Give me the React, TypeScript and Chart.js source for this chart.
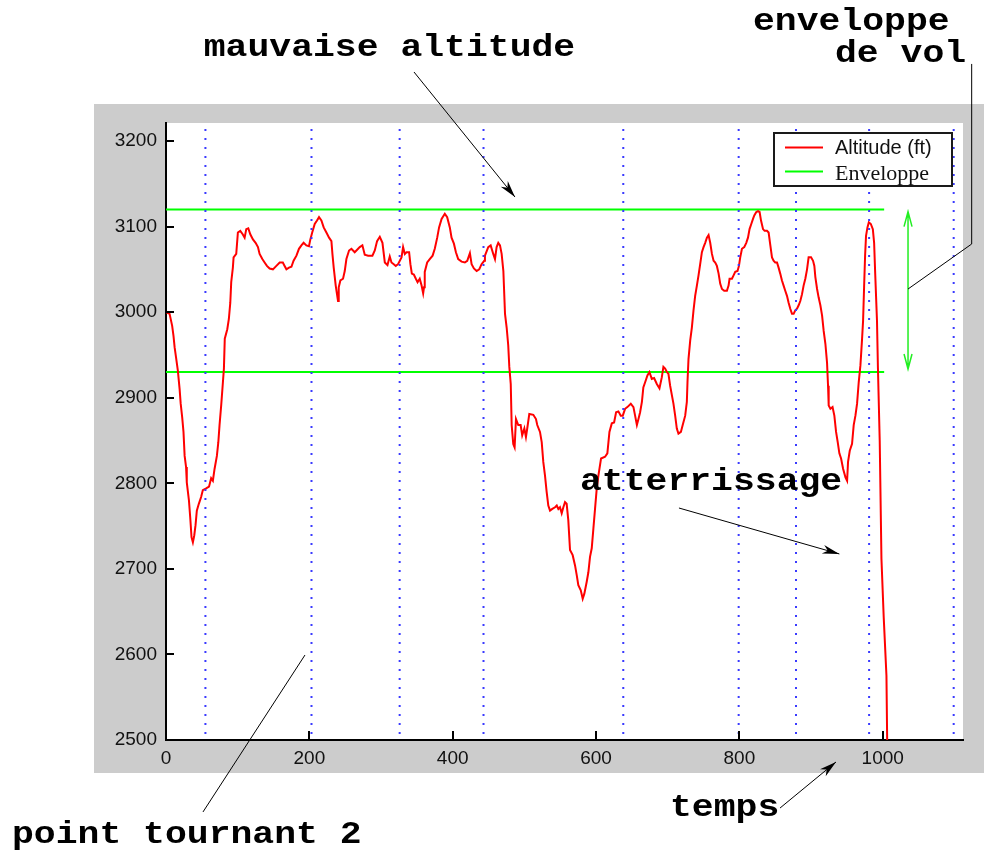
import React, { useEffect, useRef } from 'react';
import { Chart, registerables } from 'chart.js';

Chart.register(...registerables);

// ---------- data ----------
const timeValues = [
  0, 5, 8.6, 10.5, 12, 14, 16.5, 19, 20.5, 22.6, 24.4, 26, 28, 29, 32, 33.8, 35.6, 37.5, 39.4, 41.2,
  43, 45.8, 49, 51.4, 56, 60, 63, 65.4, 67.8, 71, 73, 74.7, 77, 79.4, 80.8, 82, 85.5, 87.7, 89.7, 91,
  93.3, 94.3, 98, 100.3, 103.6, 107, 109.7, 112, 114.8, 117.6, 121.3, 125, 128.3, 130.6, 134.4, 137.6, 140.8, 144.6, 149.2, 154,
  158.6, 163, 165.5, 168, 171.6, 175, 178, 182, 185.5, 188.9, 192, 195.8, 199.5, 201.4, 204, 207.5, 210.7, 213.5, 216.8, 220,
  223.8, 227.5, 230.8, 232.2, 234, 236.8, 240, 241, 243.3, 247, 249.4, 251.7, 255.4, 258.7, 263.3, 265.7, 270.3, 274, 277.3, 282,
  288, 291.3, 294.5, 298.3, 302, 305.3, 309, 312.2, 314.6, 317.8, 320.6, 323.8, 328.6, 330.8, 333.2, 335.6, 339.2, 341, 343, 345.8,
  348.6, 351, 354, 356.6, 358.8, 360, 361, 364.4, 368, 372, 375, 378.4, 381, 384.5, 389, 392.3, 396, 398.4, 401.7, 404.5,
  407.7, 412.4, 417, 420.3, 424, 426.4, 429.6, 433.4, 437, 440.3, 444, 445, 449.6, 453, 456.6, 459, 461.3, 463.6, 466, 468.3,
  470.7, 473, 475.3, 477.5, 479, 481, 482.3, 484.5, 486.4, 488.3, 491.5, 494.8, 497, 500, 502.2, 504, 506.9, 512.5, 516.2, 518,
  521.8, 524.2, 526.4, 528.8, 531.1, 533.4, 535.8, 539, 542.8, 545.2, 547.4, 549.7, 552.1, 554.4, 556.7, 559, 561.3, 563.7, 567.4, 570.7,
  573, 575.3, 578.7, 581.4, 583.7, 587, 589.3, 591.6, 594, 596.3, 598.6, 601, 603.3, 607, 612.6, 615.8, 618.7, 622, 625.2, 628,
  631.2, 634.5, 637.3, 640.5, 643.7, 648.5, 652.2, 654.5, 657, 659.2, 661.5, 664, 666, 668.5, 671.7, 674.5, 677.8, 681, 684.8, 688.5,
  691.8, 694, 696.4, 698.8, 701, 703.4, 705.8, 708, 710.4, 712.7, 715, 718.4, 721.2, 724.4, 726.7, 727.6, 729, 731.4, 733.7, 736,
  738.3, 740.7, 743, 745.3, 747.7, 750, 752.3, 754.7, 757, 759.3, 761.7, 764, 766.3, 768.6, 771, 773.3, 775.7, 778.8, 782.6, 784.9,
  786.3, 789.6, 791.9, 794.2, 797.4, 799.4, 801.2, 803.6, 806.8, 809.6, 812, 814.2, 816.6, 819, 820.8, 823.6, 826, 828.2, 830.2, 833,
  835.2, 838.5, 840.8, 843.2, 845.5, 847.7, 850, 852.5, 854.7, 857, 859.4, 861.7, 864, 866.4, 868.7, 871, 873.4, 875.7, 878, 880.4,
  882.7, 885, 887.4, 889.6, 892, 894.4, 896.6, 900, 902.8, 904.6, 906, 908.4, 910.6, 913, 915.4, 917.6, 920, 922.3, 923.7, 924.6,
  927, 930, 932.5, 934.9, 937.2, 939.5, 941.9, 944.7, 948, 950.3, 951.6, 954, 957.2, 959.5, 961.9, 964.2, 966.5, 968.9, 971.2, 972.6,
  974, 975.4, 976.7, 978.7, 980.6, 983.4, 986.2, 988, 989.5, 992, 993.3, 995.8, 998.2, 1001.4, 1005.2, 1006.2, 1007,
];

const altitudeValues = [
  3000, 2998, 2984, 2972, 2959, 2947, 2932, 2910, 2893, 2877, 2860, 2832, 2819, 2801, 2780, 2760, 2737, 2731, 2739, 2751,
  2768, 2776, 2784, 2792, 2794, 2796, 2806, 2803, 2817, 2832, 2848, 2868, 2891, 2918, 2934, 2969, 2980, 2992, 3011, 3035,
  3052, 3064, 3068, 3093, 3095, 3091, 3087, 3097, 3098, 3091, 3085, 3081, 3076, 3068, 3062, 3058, 3054, 3051, 3050, 3054,
  3058, 3058, 3054, 3050, 3052, 3053, 3060, 3066, 3074, 3078, 3081, 3078, 3077, 3085, 3093, 3103, 3107, 3111, 3107, 3099,
  3093, 3087, 3083, 3068, 3052, 3031, 3013, 3029, 3037, 3039, 3048, 3062, 3072, 3074, 3070, 3072, 3076, 3078, 3067, 3066,
  3066, 3072, 3083, 3088, 3081, 3058, 3055, 3065, 3058, 3056, 3054, 3056, 3064, 3076, 3068, 3070, 3070, 3056, 3045, 3044,
  3039, 3035, 3039, 3031, 3022, 3029, 3047, 3058, 3062, 3066, 3074, 3087, 3099, 3109, 3115, 3111, 3099, 3087, 3080, 3070,
  3062, 3059, 3058, 3060, 3069, 3056, 3051, 3048, 3050, 3056, 3060, 3066, 3076, 3078, 3068, 3062, 3076, 3081, 3078, 3068,
  3048, 2998, 2982, 2961, 2936, 2916, 2868, 2846, 2842, 2875, 2868, 2868, 2856, 2864, 2854, 2864, 2881, 2880, 2875, 2868,
  2860, 2848, 2825, 2809, 2790, 2774, 2768, 2770, 2772, 2774, 2770, 2772, 2765, 2772, 2778, 2776, 2757, 2722, 2716, 2704,
  2693, 2681, 2675, 2665, 2671, 2685, 2696, 2714, 2724, 2747, 2770, 2794, 2809, 2829, 2831, 2835, 2860, 2870, 2871, 2883,
  2884, 2879, 2879, 2887, 2889, 2893, 2889, 2879, 2868, 2875, 2883, 2895, 2912, 2918, 2926, 2930, 2922, 2923, 2916, 2911,
  2924, 2936, 2934, 2930, 2928, 2914, 2903, 2893, 2879, 2864, 2858, 2860, 2869, 2879, 2895, 2918, 2945, 2967, 2982, 3002,
  3019, 3031, 3043, 3056, 3070, 3076, 3081, 3087, 3090, 3081, 3068, 3060, 3058, 3054, 3045, 3033, 3027, 3025, 3025, 3031,
  3039, 3039, 3043, 3047, 3048, 3054, 3064, 3074, 3076, 3081, 3087, 3097, 3103, 3109, 3113, 3117, 3118, 3117, 3107, 3097,
  3095, 3095, 3093, 3078, 3064, 3060, 3058, 3058, 3052, 3045, 3037, 3031, 3025, 3019, 3011, 3004, 2998, 2998, 3002, 3004,
  3008, 3013, 3021, 3031, 3039, 3050, 3064, 3064, 3060, 3054, 3041, 3027, 3017, 3008, 2996, 2978, 2963, 2941, 2914, 2891,
  2887, 2889, 2879, 2860, 2848, 2835, 2829, 2817, 2807, 2803, 2825, 2838, 2846, 2868, 2879, 2893, 2918, 2938, 2969, 2990,
  3029, 3066, 3089, 3099, 3105, 3103, 3097, 3081, 3045, 2990, 2935, 2850, 2712, 2643, 2575, 2500, 2480,
];

const envelopeLow = 2930;
const envelopeHigh = 3120;
const envelopeStart = 0;
const envelopeEnd = 1002;

const markerTimes = [55, 203, 326, 443, 638, 799, 879, 981, 1099];

const xTickValues = [0, 200, 400, 600, 800, 1000];
const yTickValues = [2500, 2600, 2700, 2800, 2900, 3000, 3100, 3200];

const xMin = 0;
const xMax = 1112;
const yMin = 2500;
const yMax = 3221;

const seriesLabels = ['Altitude (ft)', 'Enveloppe'];

// annotation anchors, in data units (time, altitude)
const annotationTexts = [
  { text: 'mauvaise altitude', x: 311.8, y: 3299, align: 'center' },
  { text: 'enveloppe', x: 819, y: 3330, align: 'left' },
  { text: 'de vol', x: 933.4, y: 3292, align: 'left' },
  { text: 'atterrissage', x: 577.6, y: 2792, align: 'left' },
  { text: 'point tournant 2', x: -214.9, y: 2380, align: 'left' },
  { text: 'temps', x: 703.2, y: 2411, align: 'left' },
];

const annotationArrows = [
  { from: [346, 3280.6], to: [486.9, 3134.5], head: true },
  { from: [51.6, 2415.9], to: [193.9, 2599.3], head: false },
  { from: [856.7, 2420.5], to: [934.8, 2474.3], head: true },
  { from: [715.7, 2771.1], to: [939.5, 2717.4], head: true },
];

const envelopeLeader = [
  [1035.3, 3027],
  [1124.1, 3079.6],
  [1124.1, 3290],
];

const envelopeSpan = { x: 1035.3, low: 2933.5, high: 3117.4 };

// ---------- drawing helpers ----------
function drawArrowHead(ctx: CanvasRenderingContext2D, x1: number, y1: number, x2: number, y2: number) {
  const ang = Math.atan2(y2 - y1, x2 - x1);
  const c = Math.cos(ang);
  const s = Math.sin(ang);
  const L = 17;
  const W = 4.5;
  const N = 12;
  ctx.beginPath();
  ctx.moveTo(x2, y2);
  ctx.lineTo(x2 - L * c + W * s, y2 - L * s - W * c);
  ctx.lineTo(x2 - N * c, y2 - N * s);
  ctx.lineTo(x2 - L * c - W * s, y2 - L * s + W * c);
  ctx.closePath();
  ctx.fill();
}

const framePlugin = {
  id: 'framePlugin',
  beforeDraw(chart: any) {
    const { ctx, chartArea: a } = chart;
    ctx.save();
    ctx.fillStyle = '#ffffff';
    ctx.fillRect(0, 0, chart.width, chart.height);
    ctx.fillStyle = '#cccccc';
    const gx = a.left - 72;
    const gy = a.top - 19;
    ctx.fillRect(gx, gy, chart.width - gx, a.bottom + 33 - gy);
    ctx.fillStyle = '#ffffff';
    ctx.fillRect(a.left, a.top, a.right - a.left, a.bottom - a.top);
    ctx.restore();
  },
  afterDraw(chart: any) {
    const { ctx, chartArea: a } = chart;
    const sx = chart.scales.x;
    const sy = chart.scales.y;
    const px = (v: number) => sx.getPixelForValue(v);
    const py = (v: number) => sy.getPixelForValue(v);
    ctx.save();

    // inward tick marks
    ctx.strokeStyle = '#000';
    ctx.lineWidth = 2;
    ctx.beginPath();
    yTickValues.forEach((v) => {
      const y = Math.round(py(v));
      ctx.moveTo(a.left, y);
      ctx.lineTo(a.left + 8, y);
    });
    xTickValues.forEach((v) => {
      const x = Math.round(px(v));
      ctx.moveTo(x, a.bottom);
      ctx.lineTo(x, a.bottom - 9);
    });
    ctx.stroke();

    // legend
    const lw = 178;
    const lh = 53;
    const lx = a.right - 189;
    const ly = a.top + 10;
    ctx.fillStyle = '#ffffff';
    ctx.fillRect(lx, ly, lw, lh);
    ctx.strokeStyle = '#1a1a1a';
    ctx.lineWidth = 2;
    ctx.strokeRect(lx, ly, lw, lh);
    ctx.lineWidth = 2;
    ctx.strokeStyle = '#ff0000';
    ctx.beginPath();
    ctx.moveTo(lx + 11, ly + 14.5);
    ctx.lineTo(lx + 49, ly + 14.5);
    ctx.stroke();
    ctx.strokeStyle = '#00ff00';
    ctx.beginPath();
    ctx.moveTo(lx + 11, ly + 38.5);
    ctx.lineTo(lx + 49, ly + 38.5);
    ctx.stroke();
    ctx.fillStyle = '#111';
    ctx.textAlign = 'left';
    ctx.textBaseline = 'alphabetic';
    ctx.font = '20px "Liberation Sans", Arial, sans-serif';
    ctx.fillText(seriesLabels[0], lx + 61, ly + 21);
    ctx.font = '22px "Liberation Serif", "Times New Roman", serif';
    ctx.fillText(seriesLabels[1], lx + 61, ly + 47);

    // green envelope span arrow
    const ex = px(envelopeSpan.x);
    const eTop = py(envelopeSpan.high);
    const eBot = py(envelopeSpan.low);
    ctx.strokeStyle = '#22ee22';
    ctx.lineWidth = 1.5;
    ctx.beginPath();
    ctx.moveTo(ex, eTop);
    ctx.lineTo(ex, eBot);
    ctx.moveTo(ex - 4, eTop + 15);
    ctx.lineTo(ex, eTop);
    ctx.lineTo(ex + 4, eTop + 15);
    ctx.moveTo(ex - 4, eBot - 15);
    ctx.lineTo(ex, eBot);
    ctx.lineTo(ex + 4, eBot - 15);
    ctx.stroke();

    // leader for "enveloppe de vol"
    ctx.strokeStyle = '#000';
    ctx.lineWidth = 1;
    ctx.beginPath();
    envelopeLeader.forEach(([x, y], i) => {
      if (i === 0) ctx.moveTo(px(x), py(y));
      else ctx.lineTo(px(x), py(y));
    });
    ctx.stroke();

    // arrows
    ctx.fillStyle = '#000';
    annotationArrows.forEach((ar) => {
      const x1 = px(ar.from[0]);
      const y1 = py(ar.from[1]);
      const x2 = px(ar.to[0]);
      const y2 = py(ar.to[1]);
      ctx.beginPath();
      ctx.moveTo(x1, y1);
      ctx.lineTo(x2, y2);
      ctx.stroke();
      if (ar.head) drawArrowHead(ctx, x1, y1, x2, y2);
    });

    // texts: Courier-like bold, slightly widened
    ctx.font = 'bold 32px "Liberation Mono", "Courier New", monospace';
    ctx.fillStyle = '#000';
    ctx.textBaseline = 'alphabetic';
    annotationTexts.forEach((t) => {
      ctx.save();
      ctx.translate(px(t.x), py(t.y));
      ctx.scale(1.138, 1);
      ctx.textAlign = t.align as CanvasTextAlign;
      ctx.fillText(t.text, 0, 0);
      ctx.restore();
    });

    ctx.restore();
  },
};

export default function App() {
  const canvasRef = useRef<HTMLCanvasElement | null>(null);

  useEffect(() => {
    const canvas = canvasRef.current;
    if (!canvas) return;

    const altitudePoints = timeValues.map((t, i) => ({ x: t, y: altitudeValues[i] }));

    const markerDatasets = markerTimes.map((t) => ({
      label: 'marker',
      data: [
        { x: t, y: yMin },
        { x: t, y: yMax },
      ],
      borderColor: '#3a3aff',
      borderWidth: 2,
      borderDash: [2, 7],
      borderDashOffset: 3,
      pointRadius: 0,
      fill: false,
      order: 0,
    }));

    const chart = new Chart(canvas, {
      type: 'line',
      data: {
        datasets: [
          {
            label: seriesLabels[0],
            data: altitudePoints,
            borderColor: '#ff0000',
            borderWidth: 2,
            pointRadius: 0,
            tension: 0,
            fill: false,
            order: 1,
          },
          {
            label: seriesLabels[1],
            data: [
              { x: envelopeStart, y: envelopeHigh },
              { x: envelopeEnd, y: envelopeHigh },
            ],
            borderColor: '#00ff00',
            borderWidth: 2,
            pointRadius: 0,
            fill: false,
            order: 2,
          },
          {
            label: seriesLabels[1] + ' bas',
            data: [
              { x: envelopeStart, y: envelopeLow },
              { x: envelopeEnd, y: envelopeLow },
            ],
            borderColor: '#00ff00',
            borderWidth: 2,
            pointRadius: 0,
            fill: false,
            order: 2,
          },
          ...markerDatasets,
        ] as any,
      },
      options: {
        responsive: false,
        animation: false,
        devicePixelRatio: 1,
        layout: { padding: { left: 94, top: 123, right: 21, bottom: 72 } },
        plugins: {
          legend: { display: false },
          tooltip: { enabled: false },
          title: { display: false },
        },
        scales: {
          x: {
            type: 'linear',
            min: xMin,
            max: xMax,
            afterBuildTicks: (scale: any) => {
              scale.ticks = xTickValues.map((v) => ({ value: v }));
            },
            afterFit: (scale: any) => {
              scale.height = 40;
            },
            grid: { display: false, drawTicks: false },
            border: { display: true, color: '#000', width: 2 },
            ticks: {
              font: { family: '"Liberation Sans", Arial, sans-serif', size: 19 },
              color: '#111',
              padding: 7,
              maxRotation: 0,
              autoSkip: false,
              callback: (v: any) => String(v),
            },
          },
          y: {
            type: 'linear',
            min: yMin,
            max: yMax,
            afterBuildTicks: (scale: any) => {
              scale.ticks = yTickValues.map((v) => ({ value: v }));
            },
            afterFit: (scale: any) => {
              scale.width = 72;
            },
            grid: { display: false, drawTicks: false },
            border: { display: true, color: '#000', width: 2 },
            ticks: {
              font: { family: '"Liberation Sans", Arial, sans-serif', size: 19 },
              color: '#111',
              padding: 9,
              autoSkip: false,
              callback: (v: any) => String(v),
            },
          },
        },
      } as any,
      plugins: [framePlugin as any],
    });

    return () => {
      chart.destroy();
    };
  }, []);

  return (
    <div style={{ position: 'absolute', left: 0, top: 0, width: 984, height: 852, background: '#fff' }}>
      <canvas ref={canvasRef} width={984} height={852} style={{ display: 'block', width: 984, height: 852 }} />
    </div>
  );
}
